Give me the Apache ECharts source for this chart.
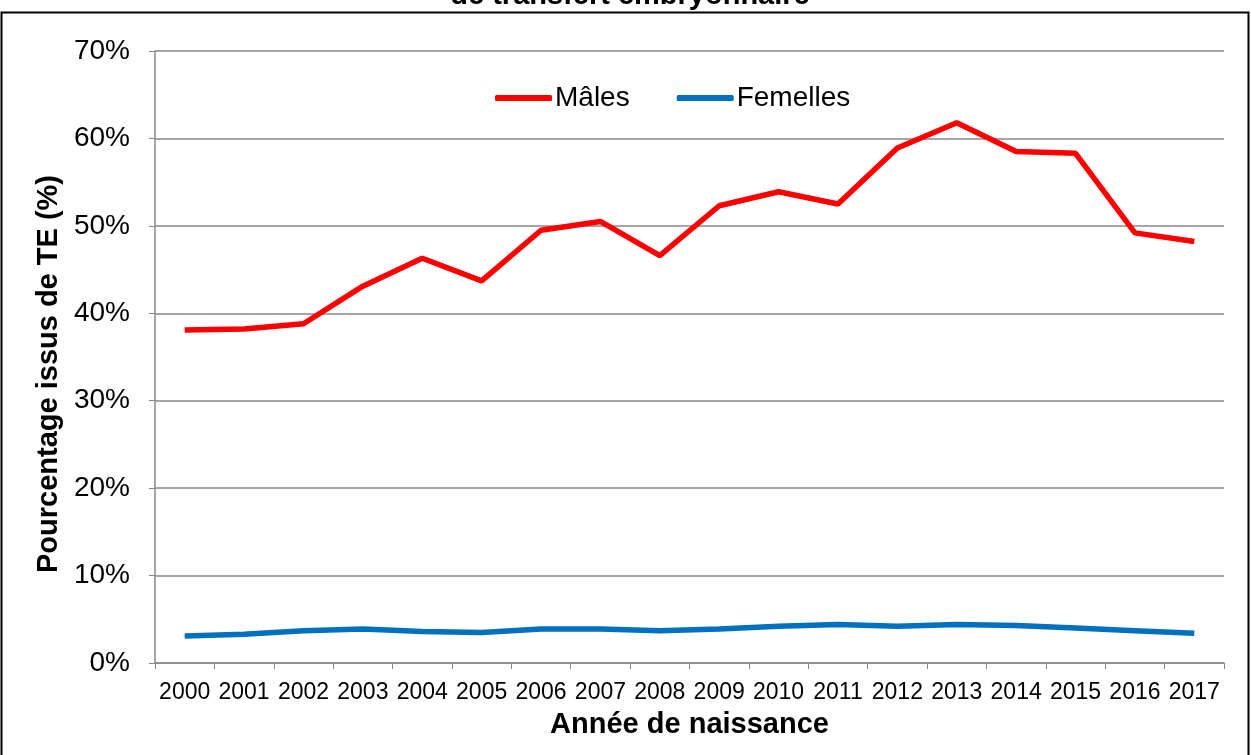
<!DOCTYPE html>
<html><head><meta charset="utf-8">
<script src="https://cdn.jsdelivr.net/npm/echarts@6/dist/echarts.min.js"></script>
<style>html,body{margin:0;padding:0;background:#fff}#c{width:1251px;height:755px}</style>
</head><body><div id="c"></div>
<script>
const years = ['2000','2001','2002','2003','2004','2005','2006','2007','2008','2009','2010','2011','2012','2013','2014','2015','2016','2017'];
const males = [38.1,38.2,38.8,43.1,46.3,43.7,49.5,50.5,46.6,52.3,53.9,52.5,58.9,61.8,58.5,58.3,49.2,48.2];
const femelles = [3.1,3.3,3.7,3.9,3.6,3.5,3.9,3.9,3.7,3.9,4.2,4.4,4.2,4.4,4.3,4.0,3.7,3.4];
const yTicks = [0,10,20,30,40,50,60,70];
const font = 'Liberation Sans, Arial, sans-serif';
const chart = echarts.init(document.getElementById('c'), null, {renderer:'canvas'});
chart.setOption({
  animation:false,
  backgroundColor:'#fff',
  graphic:[
    {type:'rect', shape:{x:1.5,y:12.5,width:1247,height:760}, style:{fill:'none',stroke:'#000',lineWidth:2}, silent:true},
    {type:'text', x:630, y:-4, style:{text:'de transfert embryonnaire', font:'bold 29px '+font, fill:'#000', textAlign:'center', textVerticalAlign:'middle'}}
  ],
  legend:{
    top:79, left:490, itemWidth:57, itemHeight:6, itemGap:47, icon:'roundRect',
    textStyle:{fontFamily:font, fontSize:28, color:'#000', padding:[0,0,0,-2]},
    data:['Mâles','Femelles']
  },
  grid:{left:155, right:27, top:51, bottom:92, containLabel:false},
  xAxis:{
    type:'category', data:years, boundaryGap:true,
    name:'Année de naissance', nameLocation:'middle', nameGap:47,
    nameTextStyle:{fontFamily:font, fontSize:29, fontWeight:'bold', color:'#000'},
    axisLine:{lineStyle:{color:'#888', width:1.5}},
    axisTick:{show:true, alignWithLabel:false, length:6, lineStyle:{color:'#888'}},
    axisLabel:{fontFamily:font, fontSize:23, color:'#000', margin:18, interval:0}
  },
  yAxis:{
    type:'value', min:0, max:70, interval:10,
    name:'Pourcentage issus de TE (%)', nameLocation:'middle', nameGap:90, nameRotate:90,
    nameTextStyle:{fontFamily:font, fontSize:29, fontWeight:'bold', color:'#000', padding:[0,34,0,0]},
    axisLine:{show:true, lineStyle:{color:'#888', width:1.5}},
    axisTick:{show:true, length:6, lineStyle:{color:'#888'}},
    axisLabel:{fontFamily:font, fontSize:28, color:'#000', margin:25, formatter: v => yTicks.includes(v) ? v+'%' : ''},
    splitLine:{show:true, lineStyle:{color:'#888', width:1.5}}
  },
  series:[
    {name:'Mâles', type:'line', data:males, symbol:'none', smooth:false, lineStyle:{color:'#ff0000', width:5.5}, itemStyle:{color:'#ff0000'}},
    {name:'Femelles', type:'line', data:femelles, symbol:'none', lineStyle:{color:'#0070c0', width:5.5}, itemStyle:{color:'#0070c0'}}
  ]
});
</script></body></html>
